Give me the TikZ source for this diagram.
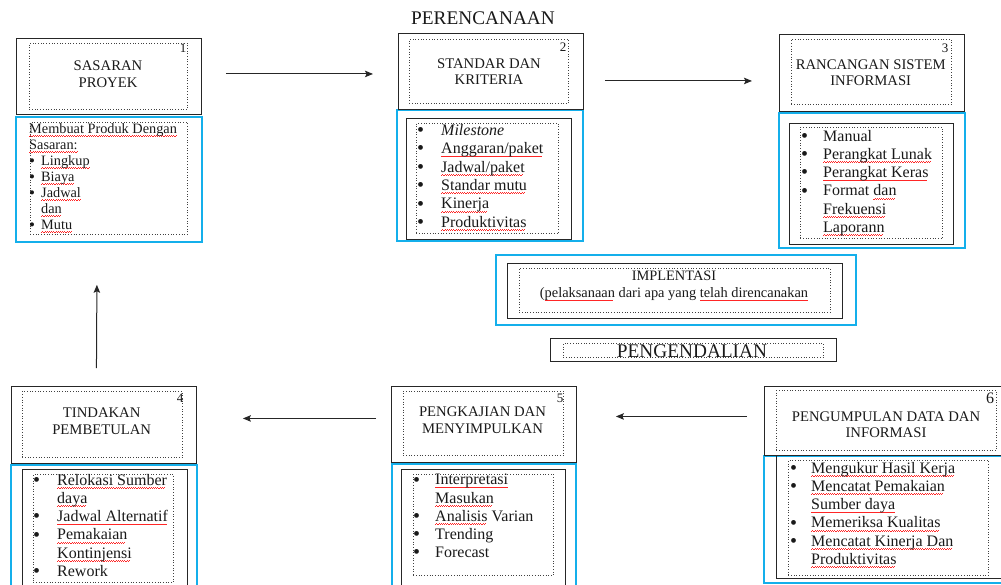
\documentclass[tikz,border=0pt]{standalone}
\usepackage{fontspec}
\setmainfont{Liberation Serif}
\usetikzlibrary{arrows.meta}
\definecolor{wblue}{RGB}{20,175,235}
\newcommand\sq[1]{\setbox0\hbox{#1}\rlap{\color{red!85}\raisebox{-3.2pt}{\leaders\hbox{\rule[0pt]{1.1pt}{0.55pt}\rule[0.7pt]{1.1pt}{0.55pt}}\hskip\wd0}}\box0\relax}
\newlength\bw
\newcommand\bsz{20}
\newcommand\blt{\smash{\raisebox{-1.2pt}{\fontsize{\bsz}{\bsz}\selectfont\textbullet}}}
\newcommand\bu[1]{\makebox[\bw][l]{\blt}#1}
\newcommand\cn[1]{\hspace*{\bw}#1}
\newcommand\mkbox[6]{\node[#2, minimum width={#5-#3}, minimum height={#6-#4}] (#1) at (#3,#4) {};}
\tikzset{
  bx/.style={draw=black!85, line width=0.9pt, anchor=north west, inner sep=0pt},
  bb/.style={draw=wblue, line width=1.8pt, anchor=north west, inner sep=0pt},
  dt/.style={draw=black!75, dotted, line width=0.7pt, anchor=north west, inner sep=0pt},
  ttl/.style={font=\fontsize{14.7}{16.5}\selectfont, align=center, inner sep=0pt, text=black!90},
  num/.style={font=\fontsize{13}{15}\selectfont, inner sep=0pt, text=black!90},
  lst/.style={font=\fontsize{16}{18.2}\selectfont, align=left, anchor=north west, inner sep=0pt, text=black!90},
  arr/.style={draw=black!85, line width=1pt, -{Stealth[length=8pt,width=6.5pt,inset=1.5pt]}},
}
\begin{document}
\begin{tikzpicture}[x=1pt,y=-1pt]
\useasboundingbox (0,0) rectangle (1001,584);
\clip (0,0) rectangle (1001,584);
% ---- box 1
\mkbox{b1b}{bb}{15}{116}{201}{241}
\mkbox{b1o}{bx}{16}{38}{201}{114}
\mkbox{b1d}{dt}{29}{43}{187}{109}
\mkbox{b1bd}{dt}{30}{122}{187}{234}
\node[num] (n1) at (183,48) {1};
\node[ttl] (t1) at (108,74) {SASARAN\\PROYEK};
\node[lst, font=\fontsize{14.3}{16}\selectfont, execute at begin node={\setlength\bw{12pt}\renewcommand\bsz{17}}] (l1) at (29,123)
 {\sq{Membuat Produk Dengan}\\ \sq{Sasaran:}\\ \bu{\sq{Lingkup}}\\ \bu{\sq{Biaya}}\\ \bu{\sq{Jadwal}}\\ \cn{\sq{dan}}\\ \bu{\sq{Mutu}}};
% ---- box 2
\node[font=\fontsize{19.3}{21}\selectfont, inner sep=0pt, text=black!90] (pr) at (483,18) {PERENCANAAN};
\mkbox{b2b}{bb}{396}{109}{582}{240}
\mkbox{b2o}{bx}{398}{33}{583}{109}
\mkbox{b2d}{dt}{409}{39}{568}{103}
\mkbox{b2i}{bx}{406}{118}{571}{239}
\mkbox{b2id}{dt}{416}{123}{558}{233}
\node[num] (n2) at (563,47) {2};
\node[ttl] (t2) at (489,71.5) {STANDAR DAN\\KRITERIA};
\node[lst, font=\fontsize{16}{18.4}\selectfont, execute at begin node={\setlength\bw{24pt}}] (l2) at (417,124)
 {\bu{\textit{Milestone}}\\ \bu{\sq{Anggaran/paket}}\\ \bu{\sq{Jadwal/paket}}\\ \bu{\sq{Standar mutu}}\\ \bu{\sq{Kinerja}}\\ \bu{\sq{Produktivitas}}};
% ---- box 3
\mkbox{b3b}{bb}{778}{112}{964}{247}
\mkbox{b3o}{bx}{779}{34}{964}{111}
\mkbox{b3d}{dt}{791}{39}{951}{104}
\mkbox{b3i}{bx}{789}{123}{953}{244}
\mkbox{b3id}{dt}{800}{127}{942}{238}
\node[num] (n3) at (945,48) {3};
\node[ttl] (t3) at (870.7,72.5) {RANCANGAN SISTEM\\INFORMASI};
\node[lst, execute at begin node={\setlength\bw{22pt}}] (l3) at (801,130)
 {\bu{Manual}\\ \bu{\sq{Perangkat Lunak}}\\ \bu{\sq{Perangkat Keras}}\\ \bu{Format \sq{dan}}\\ \cn{\sq{Frekuensi}}\\ \cn{\sq{Laporann}}};
% ---- implementasi
\mkbox{bib}{bb}{495}{254}{855}{324}
\mkbox{bi}{bx}{507}{263}{842}{318}
\mkbox{bid}{dt}{519}{268}{830}{312}
\node[ttl, font=\fontsize{14.4}{17}\selectfont] (ti) at (674,286) {IMPLENTASI\\(\sq{pelaksanaan} dari apa yang \sq{telah direncanakan}};
% ---- pengendalian
\mkbox{bp}{bx}{550}{338}{836}{361}
\mkbox{bpd}{dt}{563}{343}{823}{357}
\node[font=\fontsize{19.3}{21}\selectfont, inner sep=0pt, text=black!90] (tp) at (692,351) {PENGENDALIAN};
% ---- box 4
\mkbox{b4b}{bb}{10}{464}{196}{600}
\mkbox{b4o}{bx}{11}{386}{196}{463}
\mkbox{b4d}{dt}{22}{391}{182}{457}
\mkbox{b4i}{bx}{22}{469}{187}{600}
\mkbox{b4id}{dt}{33}{474}{173}{582}
\node[num] (n4) at (180,398) {4};
\node[ttl] (t4) at (101.7,421) {TINDAKAN\\PEMBETULAN};
\node[lst, execute at begin node={\setlength\bw{24pt}}] (l4) at (33,474)
 {\bu{\sq{Relokasi Sumber}}\\ \cn{\sq{daya}}\\ \bu{\sq{Jadwal Alternatif}}\\ \bu{\sq{Pemakaian}}\\ \cn{\sq{Kontinjensi}}\\ \bu{Rework}};
% ---- box 5
\mkbox{b5b}{bb}{391}{463}{575}{600}
\mkbox{b5o}{bx}{391}{386}{576}{462}
\mkbox{b5d}{dt}{403}{391}{563}{455}
\mkbox{b5i}{bx}{401}{469}{565}{600}
\mkbox{b5id}{dt}{413}{474}{553}{575}
\node[num] (n5) at (560,398) {5};
\node[ttl] (t5) at (482.5,420) {PENGKAJIAN DAN\\MENYIMPULKAN};
\node[lst, execute at begin node={\setlength\bw{22pt}}] (l5) at (413,474)
 {\bu{\sq{Interpretasi}}\\ \cn{\sq{Masukan}}\\ \bu{\sq{Analisis} Varian}\\ \bu{Trending}\\ \bu{Forecast}};
% ---- box 6
\mkbox{b6b}{bb}{763}{455}{1010}{582}
\mkbox{b6o}{bx}{764}{386}{1010}{455}
\mkbox{b6d}{dt}{776}{390}{996}{450}
\mkbox{b6i}{bx}{776}{455}{1010}{578}
\mkbox{b6id}{dt}{788}{460}{988}{575}
\node[num, font=\fontsize{16}{18}\selectfont] (n6) at (990,398) {6};
\node[ttl] (t6) at (886,424.5) {PENGUMPULAN DATA DAN\\INFORMASI};
\node[lst, execute at begin node={\setlength\bw{21pt}}] (l6) at (790,462)
 {\bu{\sq{Mengukur Hasil Kerja}}\\ \bu{\sq{Mencatat Pemakaian}}\\ \cn{\sq{Sumber daya}}\\ \bu{\sq{Memeriksa Kualitas}}\\ \bu{\sq{Mencatat Kinerja Dan}}\\ \cn{\sq{Produktivitas}}};
% ---- arrows
\draw[arr] ([shift={(24,-2.5)}]b1o.east) -- ([shift={(-25,2.5)}]b2o.west);
\draw[arr] ([shift={(21,9.5)}]b2o.east) -- ([shift={(-27,8)}]b3o.west);
\draw[arr] ([shift={(-17,-4.5)}]b6o.west) -- ([shift={(39,-8)}]b5o.east);
\draw[arr] ([shift={(-15,-6)}]b5o.west) -- ([shift={(46,-6.5)}]b4o.east);
\draw[arr] ([shift={(-7.5,-18)}]b4o.north) -- ([shift={(-12,42)}]b1b.south);
\end{tikzpicture}
\end{document}
